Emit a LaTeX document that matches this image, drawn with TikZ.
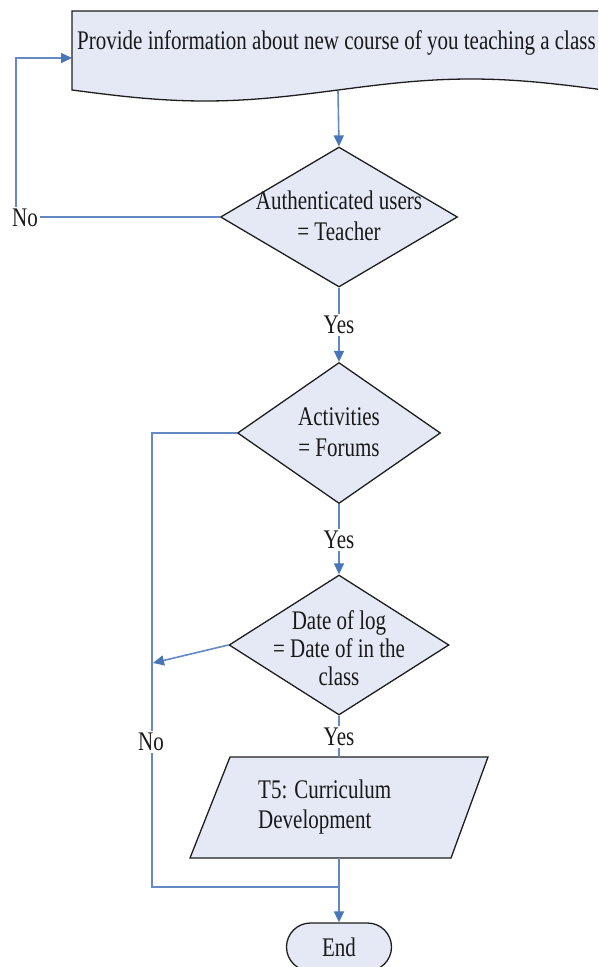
\documentclass[tikz,border=0pt]{standalone}
\usepackage{graphicx}
\usepackage{fontspec}
\setmainfont{Liberation Serif}
\usetikzlibrary{shapes.geometric,shapes.misc,arrows.meta}

\definecolor{shapefill}{HTML}{E4E9F5}
\definecolor{edgec}{HTML}{1E1E1E}
\definecolor{linec}{HTML}{6388C4}
\definecolor{tipc}{HTML}{4876B8}

% narrow, tall lettering
\newcommand{\tall}[1]{\scalebox{1}[1.28]{#1}}

\tikzset{
  x=1pt, y=-1pt,
  every node/.style={font=\fontsize{21}{31}\selectfont, text=black!90},
  box/.style={draw=edgec, fill=shapefill, line width=1.3pt},
  dia/.style={box, diamond, inner sep=0pt},
  term/.style={box, rounded rectangle, inner sep=0pt},
  txt/.style={align=center, inner sep=0pt},
  lbl/.style={inner sep=2pt},
  conn/.style={draw=linec, line width=1.6pt},
  arr/.style={conn, -{Triangle[length=11pt, width=10pt, color=tipc]}},
}

\begin{document}
\begin{tikzpicture}
\useasboundingbox (0,0) rectangle (598,967);
\clip (0,0) rectangle (598,967);

% document shape with a wavy bottom edge
\path[box] (72,11) -- (620,11) -- (620,{90+11*sin((620-72)/266*180)})
  -- plot[domain=620:72, samples=80] (\x, {90+11*sin((\x-72)/266*180)}) -- cycle;
\node[anchor=west, inner sep=0pt] (doc) at (77,43)
  {\tall{Provide information about new course of you teaching a class}};
\coordinate (docout) at (338,91);
\coordinate (docin) at (72,58);
\coordinate (loopx) at (16,0);

% decisions
\node[dia, minimum width=237pt, minimum height=140pt] (d1) at (339,217) {};
\node[txt] (d1t) at (339,216) {\tall{Authenticated users}\\\tall{= Teacher}};

\node[dia, minimum width=203pt, minimum height=141pt] (d2) at (339,433) {};
\node[txt] (d2t) at (339,432) {\tall{Activities}\\\tall{= Forums}};

\node[dia, minimum width=220pt, minimum height=140pt] (d3) at (339,645) {};
\node[txt, font=\fontsize{21}{28}\selectfont] (d3t) at (339,648)
  {\tall{Date of log}\\\tall{= Date of in the}\\\tall{class}};

% task (parallelogram)
\path[box] (230,757) -- (488,757) -- (451,858) -- (190,858) -- cycle;
\coordinate (t5top) at (339,757);
\coordinate (t5bot) at (339,858);
\node[anchor=west, align=left, inner sep=0pt, font=\fontsize{21}{30}\selectfont] (t5t) at (258,807)
  {\tall{T5: Curriculum}\\\tall{Development}};

% terminator
\node[term, minimum width=105pt, minimum height=48pt] (end) at (339,947) {\tall{End}};

% labels
\node[lbl] (no1) at (25,218) {\tall{No}};
\node[lbl] (yes1) at (339,325) {\tall{Yes}};
\node[lbl] (yes2) at (339,540) {\tall{Yes}};
\node[lbl] (yes3) at (339,737) {\tall{Yes}};
\node[lbl] (no2) at (151,742) {\tall{No}};
\coordinate (nox) at (152,0);
\coordinate (join) at (339,887);
\coordinate (d3in) at (153,663);

% connectors
\draw[arr] (docout) -- (d1.north);
\draw[conn] (d1.west) -- (d1.west -| no1.east);
\draw[arr] (no1.north -| loopx) |- (docin);

\draw[conn] (d1.south) -- (yes1.north);
\draw[arr] (yes1.south) -- (d2.north);
\draw[conn] (d2.south) -- (yes2.north);
\draw[arr] (yes2.south) -- (d3.north);
\draw[conn] (d3.south) -- (yes3.north);
\draw[conn] (yes3.south) -- (t5top);

\draw[conn] (d2.west) -| (no2.north -| nox);
\draw[conn] (no2.south -| nox) |- (join);
\draw[arr] (d3.west) -- (d3in);

\draw[arr] (t5bot) -- (end.north);
\end{tikzpicture}
\end{document}
